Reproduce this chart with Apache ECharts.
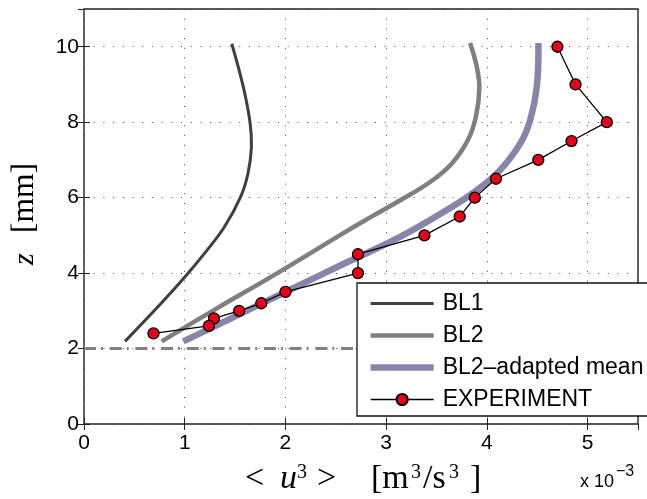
<!DOCTYPE html>
<html><head><meta charset="utf-8">
<script src="https://cdn.jsdelivr.net/npm/echarts@6/dist/echarts.min.js"></script>
<style>html,body{margin:0;padding:0;background:#fff}#c{width:647px;height:499px}</style>
</head><body><div id="c"></div>
<script>
// ---- data (x in units of 1e-3 m^3/s^3, z in mm) ----
const seriesNames = ['BL1', 'BL2', 'BL2\u2013adapted mean', 'EXPERIMENT'];

const bl1X = [0.407, 0.780, 1.018, 1.210, 1.395, 1.555, 1.628, 1.662, 1.648, 1.582, 1.467];
const bl1Z = [2.19, 3.24, 3.95, 4.57, 5.23, 6.02, 6.64, 7.34, 8.00, 8.93, 10.08];

const bl2X = [0.771, 1.290, 1.920, 2.600, 2.850, 3.140, 3.440, 3.650, 3.810, 3.890, 3.925, 3.900, 3.833];
const bl2Z = [2.19, 3.02, 4.00, 5.10, 5.49, 5.93, 6.42, 6.90, 7.52, 8.14, 8.89, 9.46, 10.10];

const adaptX = [0.986, 1.460, 2.000, 2.590, 3.138, 3.602, 3.900, 4.131, 4.330, 4.429, 4.495, 4.512];
const adaptZ = [2.19, 2.80, 3.50, 4.26, 4.96, 5.67, 6.20, 6.73, 7.43, 8.05, 8.93, 10.10];

const expX = [4.70, 4.88, 5.19, 4.84, 4.51, 4.09, 3.88, 3.73, 3.38, 2.72, 2.72, 2.00, 1.76, 1.54, 1.29, 1.24, 0.69];
const expZ = [10.0, 9.0, 8.0, 7.5, 7.0, 6.5, 6.0, 5.5, 5.0, 4.5, 4.0, 3.5, 3.2, 3.0, 2.8, 2.6, 2.4];

const refLineX = [0, 5.5];
const refLineZ = [2, 2];

const xTickLabels = ['0', '1', '2', '3', '4', '5'];
const yTickLabels = ['0', '2', '4', '6', '8', '10'];
const xExponentLabel = 'x 10';
const xExponentSup = '\u22123';

function pairs(xs, zs) { return xs.map((x, i) => [x, zs[i]]); }

const sans = "'Liberation Sans', Arial, Helvetica, sans-serif";
const serif = "'Liberation Serif', 'Times New Roman', serif";

// fit the y-title bracket group to its measured length in the reference (~70px)
const mctx = document.createElement('canvas').getContext('2d');
mctx.font = '30px ' + serif;
const mmW = mctx.measureText('[mm]').width || 66.7;
const yTitleSize = Math.max(24, Math.min(32, 30 * 70 / mmW));

const chart = echarts.init(document.getElementById('c'), null, { renderer: 'canvas' });

const gridLine = { show: true, lineStyle: { color: '#444', width: 1, type: [1, 8.7] } };
const tick = { show: true, inside: true, length: 6, lineStyle: { color: '#222', width: 1 } };

// smooth curve drawn through the library's coordinate system
function curveSeries(name, xs, zs, color, width, z) {
  const pts = pairs(xs, zs);
  return {
    name, type: 'custom', coordinateSystem: 'cartesian2d', xAxisIndex: 0, yAxisIndex: 0,
    data: pts, encode: { x: 0, y: 1 }, z, clip: true, silent: true,
    color, itemStyle: { color },
    renderItem: (params, api) => {
      if (params.dataIndex !== 0) return null;
      const points = pts.map(p => api.coord(p));
      return {
        type: 'polyline',
        shape: { points, smooth: 0.4 },
        style: { stroke: color, lineWidth: width, fill: null, lineJoin: 'round' }
      };
    }
  };
}

chart.setOption({
  backgroundColor: '#fff',
  animation: false,
  grid: { left: 84, right: 9, top: 9, bottom: 75, show: true, borderColor: '#222', borderWidth: 1.4, backgroundColor: 'transparent' },
  xAxis: [
    {
      type: 'value', min: 0, max: 5.5, interval: 1, position: 'bottom',
      axisLine: { show: false }, axisTick: tick,
      splitLine: gridLine,
      axisLabel: { show: true, showMaxLabel: false, margin: 9, fontSize: 21, fontFamily: sans, color: '#000',
        formatter: v => xTickLabels[Math.round(v)] ?? '' }
    },
    {
      type: 'value', min: 0, max: 5.5, interval: 1, position: 'top',
      axisLine: { show: false }, axisTick: tick, splitLine: { show: false }, axisLabel: { show: false }
    }
  ],
  yAxis: [
    {
      type: 'value', min: 0, max: 11, interval: 2, position: 'left',
      axisLine: { show: false }, axisTick: tick,
      splitLine: gridLine,
      axisLabel: { show: true, showMaxLabel: false, margin: 5, fontSize: 21, fontFamily: sans, color: '#000',
        padding: [0, 0, 6, 0],
        formatter: v => yTickLabels[Math.round(v / 2)] ?? '' }
    },
    {
      type: 'value', min: 0, max: 11, interval: 2, position: 'right',
      axisLine: { show: false }, axisTick: tick, splitLine: { show: false }, axisLabel: { show: false }
    }
  ],
  legend: {
    show: true, orient: 'vertical', left: 357, top: 283, z: 10,
    padding: [9, 2, 9, 13],
    itemWidth: 63, itemHeight: 14, itemGap: 9,
    backgroundColor: 'transparent', borderWidth: 0,
    textStyle: { fontSize: 23, fontFamily: sans, color: '#000', lineHeight: 22, padding: [0, 0, 0, 4] },
    data: [
      { name: seriesNames[0], icon: 'path://M0,0H630V30H0Z', itemStyle: { color: '#3f3f3f' } },
      { name: seriesNames[1], icon: 'path://M0,0H630V45H0Z', itemStyle: { color: '#7f7f7f' } },
      { name: seriesNames[2], icon: 'path://M0,0H630V65H0Z', itemStyle: { color: '#8885aa' } },
      { name: seriesNames[3], lineStyle: { width: 1.3 } }
    ]
  },
  graphic: [
    {
      type: 'rect', z: 9, silent: true,
      shape: { x: 357, y: 283, width: 330, height: 133 },
      style: { fill: '#fff', stroke: '#111', lineWidth: 1.3 }
    },
    {
      type: 'text', x: 245, y: 476.5, z: 10,
      style: {
        text: '{lt|<}{u|u}{s1|3}{gt|>}{n1|[m}{s2|3}{n2|/s}{s3|3}{n3|]}',
        align: 'left', verticalAlign: 'middle', fill: '#000',
        font: '34px ' + serif,
        rich: {
          lt: { fontSize: 34, fontFamily: serif, width: 35, lineHeight: 40, verticalAlign: 'bottom', align: 'left' },
          u: { fontSize: 34, fontFamily: serif, fontStyle: 'italic', width: 17, lineHeight: 40, verticalAlign: 'bottom', align: 'left' },
          s1: { fontSize: 20, fontFamily: serif, width: 20, lineHeight: 32, padding: [6, 0, 0, 0], verticalAlign: 'top', align: 'left' },
          gt: { fontSize: 34, fontFamily: serif, width: 54, lineHeight: 40, verticalAlign: 'bottom', align: 'left' },
          n1: { fontSize: 34, fontFamily: serif, width: 40, lineHeight: 40, verticalAlign: 'bottom', align: 'left' },
          s2: { fontSize: 20, fontFamily: serif, width: 12, lineHeight: 32, padding: [6, 0, 0, 0], verticalAlign: 'top', align: 'left' },
          n2: { fontSize: 34, fontFamily: serif, width: 26, lineHeight: 40, verticalAlign: 'bottom', align: 'left' },
          s3: { fontSize: 20, fontFamily: serif, width: 21, lineHeight: 32, padding: [6, 0, 0, 0], verticalAlign: 'top', align: 'left' },
          n3: { fontSize: 34, fontFamily: serif, lineHeight: 40, verticalAlign: 'bottom', align: 'left' }
        }
      }
    },
    {
      type: 'text', x: 25, y: 214, rotation: Math.PI / 2, z: 10,
      style: {
        text: '{z|z}{n|[mm]}',
        align: 'center', verticalAlign: 'middle', fill: '#000',
        font: '30px ' + serif,
        rich: {
          z: { fontSize: 30, fontFamily: serif, fontStyle: 'italic', width: 32, align: 'left' },
          n: { fontSize: yTitleSize, fontFamily: serif, width: 70, align: 'left' }
        }
      }
    },
    {
      type: 'text', x: 580, y: 482, z: 10,
      style: { text: xExponentLabel, font: '18px ' + sans, fill: '#000', align: 'left', verticalAlign: 'middle' }
    },
    {
      type: 'text', x: 616, y: 472, z: 10,
      style: { text: xExponentSup, font: '16px ' + sans, fill: '#000', align: 'left', verticalAlign: 'middle' }
    }
  ],
  series: [
    {
      name: 'ref', type: 'line', data: pairs(refLineX, refLineZ), symbol: 'none', silent: true,
      lineStyle: { color: '#808080', width: 3, type: [12, 5, 2, 6.7] }, z: 1
    },
    curveSeries(seriesNames[0], bl1X, bl1Z, '#3f3f3f', 3, 2),
    curveSeries(seriesNames[1], bl2X, bl2Z, '#7f7f7f', 4.5, 3),
    curveSeries(seriesNames[2], adaptX, adaptZ, '#8885aa', 6.5, 4),
    {
      name: seriesNames[3], type: 'line', data: pairs(expX, expZ), symbol: 'circle', symbolSize: 11,
      color: '#e2001a',
      lineStyle: { color: '#000', width: 1.3 },
      itemStyle: { color: '#e2001a', borderColor: '#000', borderWidth: 1.3 }, z: 5
    }
  ]
});
</script>
</body></html>
